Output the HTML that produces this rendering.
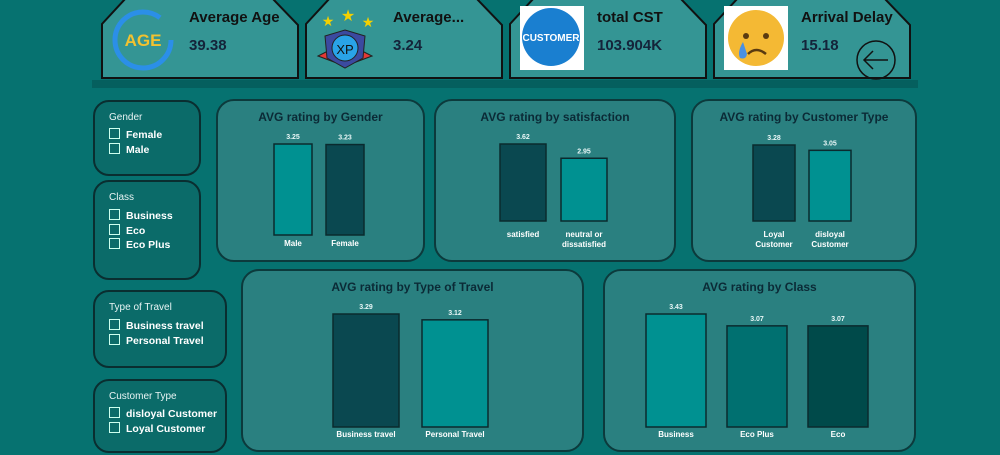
<!DOCTYPE html>
<html><head><meta charset="utf-8"><style>
body{margin:0;width:1000px;height:455px;overflow:hidden;background:#067270;font-family:"Liberation Sans",sans-serif;position:relative}
.abs{position:absolute}
.panel{position:absolute;background:#2a8080;border:2px solid #0c3a3c;border-radius:18px;box-sizing:border-box}
.slicer{position:absolute;background:#0b6b69;border:2px solid #0a2e30;border-radius:16px;box-sizing:border-box;color:#fff}
.slicer .t{position:absolute;left:14px;top:10px;font-size:10px;color:#e8f4f4}
.slicer .it{position:absolute;left:14px;font-size:10.5px;font-weight:bold;white-space:nowrap}
.slicer .it i{display:inline-block;width:9px;height:9px;border:1px solid #cfe;vertical-align:-1px;margin-right:6px}
.ct{position:absolute;width:100%;text-align:center;font-weight:bold;color:#0b2a36;font-size:12px}
.card-t{position:absolute;font-weight:bold;font-size:15px;color:#111}
.card-v{position:absolute;font-weight:bold;font-size:15px;color:#14243a}
</style></head><body>
<div class="abs" style="left:92px;top:80px;width:826px;height:8px;background:#055f5e"></div>
<svg class="abs" style="left:0;top:0" width="1000" height="90">
 <g fill="#349594" stroke="#111" stroke-width="2">
  <polygon points="102,78 102,24 126,-2 272,-2 298,25 298,78"/>
  <polygon points="306,78 306,24 330,-2 476,-2 502,25 502,78"/>
  <polygon points="510,78 510,24 534,-2 680,-2 706,25 706,78"/>
  <polygon points="714,78 714,24 738,-2 884,-2 910,25 910,78"/>
 </g>
 <g>
  <circle cx="143" cy="40" r="28" fill="none" stroke="#2b8fe8" stroke-width="5" stroke-dasharray="150 30"/>
  <text x="143" y="46" text-anchor="middle" font-size="17" font-weight="bold" fill="#f2c230" font-family="Liberation Sans">AGE</text>
 </g>
 <g>
  <polygon points="318,56 330,50 334,62" fill="#e53935" stroke="#222"/><polygon points="372,56 360,50 356,62" fill="#e53935" stroke="#222"/>
  <path d="M345,30 L365,36 L363,58 L345,68 L327,58 L325,36 Z" fill="#3b4aa0" stroke="#222"/>
  <circle cx="345" cy="48" r="13" fill="#29a3e8" stroke="#222"/>
  <text x="345" y="54" text-anchor="middle" font-size="13" fill="#111">XP</text>
  <text x="328" y="26" font-size="14" fill="#f4d000" text-anchor="middle">★</text><text x="348" y="21" font-size="16" fill="#f4d000" text-anchor="middle">★</text><text x="368" y="27" font-size="14" fill="#f4d000" text-anchor="middle">★</text>
 </g>
 <g>
  <rect x="520" y="6" width="64" height="64" fill="#fff"/>
  <circle cx="551" cy="37" r="29" fill="#1a7fd0"/>
  <text x="551" y="41" text-anchor="middle" font-size="10" font-weight="bold" fill="#fff">CUSTOMER</text>
 </g>
 <g>
  <rect x="724" y="6" width="64" height="64" fill="#fff"/>
  <circle cx="756" cy="38" r="28" fill="#f4b934"/>
  <circle cx="746" cy="36" r="3" fill="#5a3a10"/><circle cx="766" cy="36" r="3" fill="#5a3a10"/>
  <path d="M748,54 Q756,46 766,54" stroke="#5a3a10" stroke-width="2.5" fill="none"/>
  <path d="M743,42 Q737,52 740,58 Q746,60 747,54 Z" fill="#4a90e2"/>
 </g>
 <g>
  <circle cx="876" cy="60" r="19" fill="none" stroke="#111" stroke-width="1.5"/>
  <path d="M865,60 H888 M873,51 L864,60 L873,69" stroke="#111" stroke-width="1.5" fill="none"/>
 </g>
</svg>
<div class="card-t" style="left:189px;top:9px">Average Age</div>
<div class="card-v" style="left:189px;top:37px">39.38</div>
<div class="card-t" style="left:393px;top:9px">Average...</div>
<div class="card-v" style="left:393px;top:37px">3.24</div>
<div class="card-t" style="left:597px;top:9px">total CST</div>
<div class="card-v" style="left:597px;top:37px">103.904K</div>
<div class="card-t" style="left:801px;top:9px">Arrival Delay</div>
<div class="card-v" style="left:801px;top:37px">15.18</div>

<div class="slicer" style="left:93px;top:100px;width:108px;height:76px">
 <div class="t">Gender</div>
 <div class="it" style="top:26px"><i></i>Female</div>
 <div class="it" style="top:41px"><i></i>Male</div>
</div>
<div class="slicer" style="left:93px;top:180px;width:108px;height:100px">
 <div class="t">Class</div>
 <div class="it" style="top:27px"><i></i>Business</div>
 <div class="it" style="top:42px"><i></i>Eco</div>
 <div class="it" style="top:56px"><i></i>Eco Plus</div>
</div>
<div class="slicer" style="left:93px;top:290px;width:134px;height:78px">
 <div class="t">Type of Travel</div>
 <div class="it" style="top:27px"><i></i>Business travel</div>
 <div class="it" style="top:42px"><i></i>Personal Travel</div>
</div>
<div class="slicer" style="left:93px;top:379px;width:134px;height:74px">
 <div class="t">Customer Type</div>
 <div class="it" style="top:26px"><i></i>disloyal Customer</div>
 <div class="it" style="top:41px"><i></i>Loyal Customer</div>
</div>

<div class="panel" style="left:216px;top:99px;width:209px;height:163px"><div class="ct" style="top:9px">AVG rating by Gender</div></div>
<div class="panel" style="left:434px;top:99px;width:242px;height:163px"><div class="ct" style="top:9px">AVG rating by satisfaction</div></div>
<div class="panel" style="left:691px;top:99px;width:226px;height:163px"><div class="ct" style="top:9px">AVG rating by Customer Type</div></div>
<div class="panel" style="left:241px;top:269px;width:343px;height:183px"><div class="ct" style="top:9px">AVG rating by Type of Travel</div></div>
<div class="panel" style="left:603px;top:269px;width:313px;height:183px"><div class="ct" style="top:9px">AVG rating by Class</div></div>

<svg id="charts" class="abs" style="left:0;top:0" width="1000" height="455"></svg>
<script>
const genderCats=["Male","Female"];
const genderVals=[3.25,3.23];
const satCats=["satisfied","neutral or|dissatisfied"];
const satVals=[3.62,2.95];
const custCats=["Loyal|Customer","disloyal|Customer"];
const custVals=[3.28,3.05];
const travelCats=["Business travel","Personal Travel"];
const travelVals=[3.29,3.12];
const classCats=["Business","Eco Plus","Eco"];
const classVals=[3.43,3.07,3.07];

const NS="http://www.w3.org/2000/svg";
const svg=document.getElementById("charts");
function mk(t,a){const e=document.createElementNS(NS,t);for(const k in a)e.setAttribute(k,a[k]);svg.appendChild(e);return e;}
function chart(name,cats,vals,x0,step,bw,base,H,colors,labY){
  const mx=Math.max(...vals);
  const y=v=>base-v/mx*H;
  vals.forEach((v,i)=>{
    const x=x0+i*step;
    const r=mk("rect",{x:x,y:y(v),width:bw,height:base-y(v),fill:colors[i],stroke:"#0a2a2e","stroke-width":1.5});
    
    
    const t=mk("text",{x:x+bw/2,y:y(v)-5,"text-anchor":"middle","font-size":7,"font-weight":"bold",fill:"#e8f6f6"});
    t.textContent=v.toFixed(2);
    
    
    cats[i].split("|").forEach((ln,j)=>{
      const l=mk("text",{x:x+bw/2,y:labY+j*10,"text-anchor":"middle","font-size":8,"font-weight":"bold",fill:"#fff"});
      l.textContent=ln;
      
      
    });
  });
}
chart("gender",genderCats,genderVals,274,52,38,235,91,["#009191","#0a4850"],246);
chart("satisfaction",satCats,satVals,500,61,46,221,77,["#0a4850","#009191"],237);
chart("customer-type",custCats,custVals,753,56,42,221,76,["#0a4850","#009191"],237);
chart("travel",travelCats,travelVals,333,89,66,427,113,["#0a4850","#009191"],437);
chart("class",classCats,classVals,646,81,60,427,113,["#009191","#007070","#004a4a"],437);
</script>
</body></html>
